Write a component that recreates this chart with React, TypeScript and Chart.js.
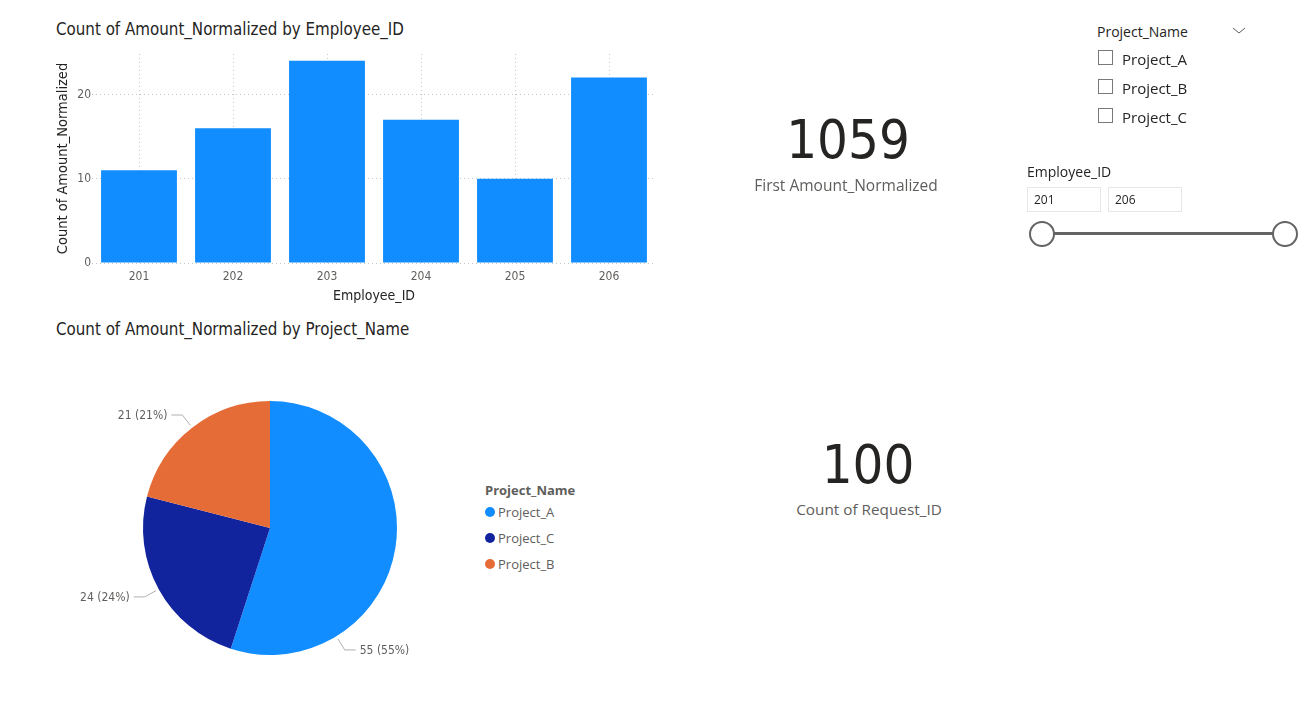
import React, { useEffect, useRef } from "react";
import { Chart, registerables } from "chart.js";

Chart.register(...registerables);

// ---------- data ----------
const employeeIds = ["201", "202", "203", "204", "205", "206"];
const amountCounts = [11, 16, 24, 17, 10, 22];
const yTickStep = 10;
const yMax = 24.8;

const projectNames = ["Project_A", "Project_C", "Project_B"];
const projectCounts = [55, 24, 21];
const projectColors = ["#118DFF", "#12239E", "#E66C37"];

const slicerProjects = ["Project_A", "Project_B", "Project_C"];
const employeeRange = ["201", "206"];

const kpiFirstAmount = "1059";
const kpiFirstAmountLabel = "First Amount_Normalized";
const kpiRequestCount = "100";
const kpiRequestCountLabel = "Count of Request_ID";

// ---------- styles ----------
const DIN = "'DejaVu Sans Condensed', 'DejaVu Sans', sans-serif";
const SEGOE = "'Open Sans', 'Noto Sans', sans-serif";
const DARK = "#252423";
const GRAY = "#605E5C";

type TProps = {
  x: number;
  y: number;
  text: string;
  size: number;
  color: string;
  family: string;
  weight?: number;
  align?: "left" | "center" | "right";
  spacing?: number;
};

function T({ x, y, text, size, color, family, weight = 400, align = "left", spacing = 0 }: TProps) {
  const lh = Math.round(size * 1.3);
  const style: React.CSSProperties = {
    position: "absolute",
    top: y - lh / 2,
    height: lh,
    lineHeight: lh + "px",
    fontSize: size,
    fontFamily: family,
    fontWeight: weight,
    color,
    whiteSpace: "nowrap",
    letterSpacing: spacing,
  };
  if (align === "left") {
    style.left = x;
  } else if (align === "center") {
    style.left = x - 300;
    style.width = 600;
    style.textAlign = "center";
  } else {
    style.left = x - 600;
    style.width = 600;
    style.textAlign = "right";
  }
  return <div style={style}>{text}</div>;
}

function BarChart() {
  const ref = useRef<HTMLCanvasElement>(null);
  useEffect(() => {
    const chart = new Chart(ref.current!, {
      type: "bar",
      data: {
        labels: employeeIds,
        datasets: [
          {
            data: amountCounts,
            backgroundColor: "#118DFF",
            borderWidth: 0,
            categoryPercentage: 1,
            barPercentage: 0.807,
          },
        ],
      },
      options: {
        animation: false,
        responsive: false,
        maintainAspectRatio: false,
        layout: { padding: { top: 14, right: 14, left: 0, bottom: 0 } },
        plugins: { legend: { display: false }, tooltip: { enabled: false } },
        scales: {
          x: {
            grid: { offset: false, color: "#C8C6C4", drawTicks: false, lineWidth: 1 },
            border: { display: false, dash: [1, 3] },
            ticks: { color: GRAY, font: { family: DIN, size: 12 }, padding: 7 },
            title: {
              display: true,
              text: "Employee_ID",
              color: DARK,
              font: { family: DIN, size: 14 },
              padding: { top: 0, bottom: 5 },
            },
            afterFit: (s: any) => {
              s.height = 47;
            },
          },
          y: {
            min: 0,
            max: yMax,
            grid: { color: "#C8C6C4", drawTicks: false, lineWidth: 1 },
            border: { display: false, dash: [1, 3] },
            ticks: {
              stepSize: yTickStep,
              includeBounds: false,
              color: GRAY,
              font: { family: DIN, size: 12 },
              padding: 1,
            },
            title: {
              display: true,
              text: "Count of Amount_Normalized",
              color: DARK,
              font: { family: DIN, size: 14.5 },
              padding: { top: 15, bottom: 0 },
            },
            afterFit: (s: any) => {
              s.width = 52;
            },
          },
        },
      },
    });
    return () => chart.destroy();
  }, []);
  return (
    <canvas
      ref={ref}
      width={630}
      height={270}
      style={{ position: "absolute", left: 40, top: 40, width: 630, height: 270 }}
    />
  );
}

const pieLabelPlugin = {
  id: "pieLabels",
  afterDatasetsDraw(chart: any, _args: any, opts: any) {
    const meta = chart.getDatasetMeta(0);
    const ctx = chart.ctx;
    const values: number[] = chart.data.datasets[0].data;
    const total = values.reduce((a, b) => a + b, 0);
    ctx.save();
    meta.data.forEach((arc: any, i: number) => {
      const { x, y, startAngle, endAngle, outerRadius } = arc.getProps(
        ["x", "y", "startAngle", "endAngle", "outerRadius"],
        true
      );
      const f = opts.anchorFractions[i];
      const a = startAngle + (endAngle - startAngle) * f;
      const c = Math.cos(a);
      const s = Math.sin(a);
      const r0 = outerRadius + 3;
      const r1 = outerRadius + 16;
      const p0x = x + c * r0;
      const p0y = y + s * r0;
      const p1x = x + c * r1;
      const p1y = y + s * r1;
      const side = c >= 0 ? 1 : -1;
      const p2x = p1x + side * 11;
      ctx.strokeStyle = "#B3B0AD";
      ctx.lineWidth = 1;
      ctx.beginPath();
      ctx.moveTo(p0x, p0y);
      ctx.lineTo(p1x, p1y);
      ctx.lineTo(p2x, p1y);
      ctx.stroke();
      const v = values[i];
      const pct = Math.round((v / total) * 100);
      ctx.fillStyle = GRAY;
      ctx.font = "12px " + DIN;
      ctx.textBaseline = "middle";
      ctx.textAlign = side > 0 ? "left" : "right";
      ctx.fillText(`${v} (${pct}%)`, p2x + side * 4, p1y + 1);
    });
    ctx.restore();
  },
};

function PieChart() {
  const ref = useRef<HTMLCanvasElement>(null);
  useEffect(() => {
    const chart = new Chart(ref.current!, {
      type: "pie",
      data: {
        labels: projectNames,
        datasets: [
          {
            data: projectCounts,
            backgroundColor: projectColors,
            borderWidth: 0,
          },
        ],
      },
      options: {
        animation: false,
        responsive: false,
        maintainAspectRatio: false,
        layout: { padding: { left: 83, right: 83, top: 16, bottom: 16 } },
        plugins: {
          legend: { display: false },
          tooltip: { enabled: false },
          pieLabels: { anchorFractions: [0.75, 0.5, 0.5] },
        } as any,
      },
      plugins: [pieLabelPlugin],
    });
    return () => chart.destroy();
  }, []);
  return (
    <canvas
      ref={ref}
      width={420}
      height={286}
      style={{ position: "absolute", left: 60, top: 385, width: 420, height: 286 }}
    />
  );
}

function PieLegend() {
  return (
    <>
      <T x={485} y={490} text="Project_Name" size={13} color={GRAY} family={SEGOE} weight={700} />
      {projectNames.map((name, i) => (
        <React.Fragment key={name}>
          <div
            style={{
              position: "absolute",
              left: 485,
              top: 512 + i * 26 - 5,
              width: 10,
              height: 10,
              borderRadius: 5,
              background: projectColors[i],
            }}
          />
          <T x={498} y={512 + i * 26} text={name} size={13} color={GRAY} family={SEGOE} />
        </React.Fragment>
      ))}
    </>
  );
}

function ProjectSlicer() {
  return (
    <>
      <T x={1097} y={32} text="Project_Name" size={14} color={DARK} family={SEGOE} />
      <svg
        style={{ position: "absolute", left: 1232, top: 26, width: 14, height: 10 }}
        viewBox="0 0 14 10"
      >
        <polyline points="1,2 7,7 13,2" fill="none" stroke="#605E5C" strokeWidth={1} />
      </svg>
      {slicerProjects.map((p, i) => (
        <React.Fragment key={p}>
          <div
            style={{
              position: "absolute",
              left: 1098,
              top: 50 + i * 29,
              width: 13,
              height: 13,
              border: "1px solid #7A7774",
              background: "#fff",
            }}
          />
          <T x={1122} y={58.5 + i * 29} text={p} size={15} color={DARK} family={SEGOE} />
        </React.Fragment>
      ))}
    </>
  );
}

function EmployeeSlicer() {
  return (
    <>
      <T x={1027} y={172} text="Employee_ID" size={14} color={DARK} family={SEGOE} />
      {employeeRange.map((v, i) => (
        <React.Fragment key={i}>
          <div
            style={{
              position: "absolute",
              left: 1027 + i * 81,
              top: 187,
              width: 74,
              height: 25,
              border: "1px solid #E6E6E6",
              boxSizing: "border-box",
            }}
          />
          <T x={1034 + i * 81} y={200} text={v} size={12} color={DARK} family={SEGOE} />
        </React.Fragment>
      ))}
      <div
        style={{
          position: "absolute",
          left: 1042,
          top: 232,
          width: 243,
          height: 3,
          background: "#666463",
        }}
      />
      {[1042, 1285].map((cx) => (
        <div
          key={cx}
          style={{
            position: "absolute",
            left: cx - 13,
            top: 234 - 13,
            width: 26,
            height: 26,
            borderRadius: 13,
            border: "2px solid #666463",
            background: "#fff",
            boxSizing: "border-box",
          }}
        />
      ))}
    </>
  );
}

export default function App() {
  return (
    <div
      style={{
        position: "absolute",
        left: 0,
        top: 0,
        width: 1302,
        height: 726,
        background: "#fff",
        overflow: "hidden",
      }}
    >
      <T
        x={56}
        y={28.5}
        text="Count of Amount_Normalized by Employee_ID"
        size={16.8}
        color={DARK}
        family={DIN}
      />
      <BarChart />
      <T
        x={56}
        y={328.5}
        text="Count of Amount_Normalized by Project_Name"
        size={16.8}
        color={DARK}
        family={DIN}
      />
      <PieChart />
      <PieLegend />

      <T x={848} y={140} text={kpiFirstAmount} size={54} color={DARK} family={DIN} align="center" />
      <T x={846} y={185} text={kpiFirstAmountLabel} size={15.5} color={GRAY} family={SEGOE} align="center" />
      <T x={868} y={465} text={kpiRequestCount} size={54} color={DARK} family={DIN} align="center" />
      <T x={869} y={509} text={kpiRequestCountLabel} size={15.3} color={GRAY} family={SEGOE} align="center" />

      <ProjectSlicer />
      <EmployeeSlicer />
    </div>
  );
}
